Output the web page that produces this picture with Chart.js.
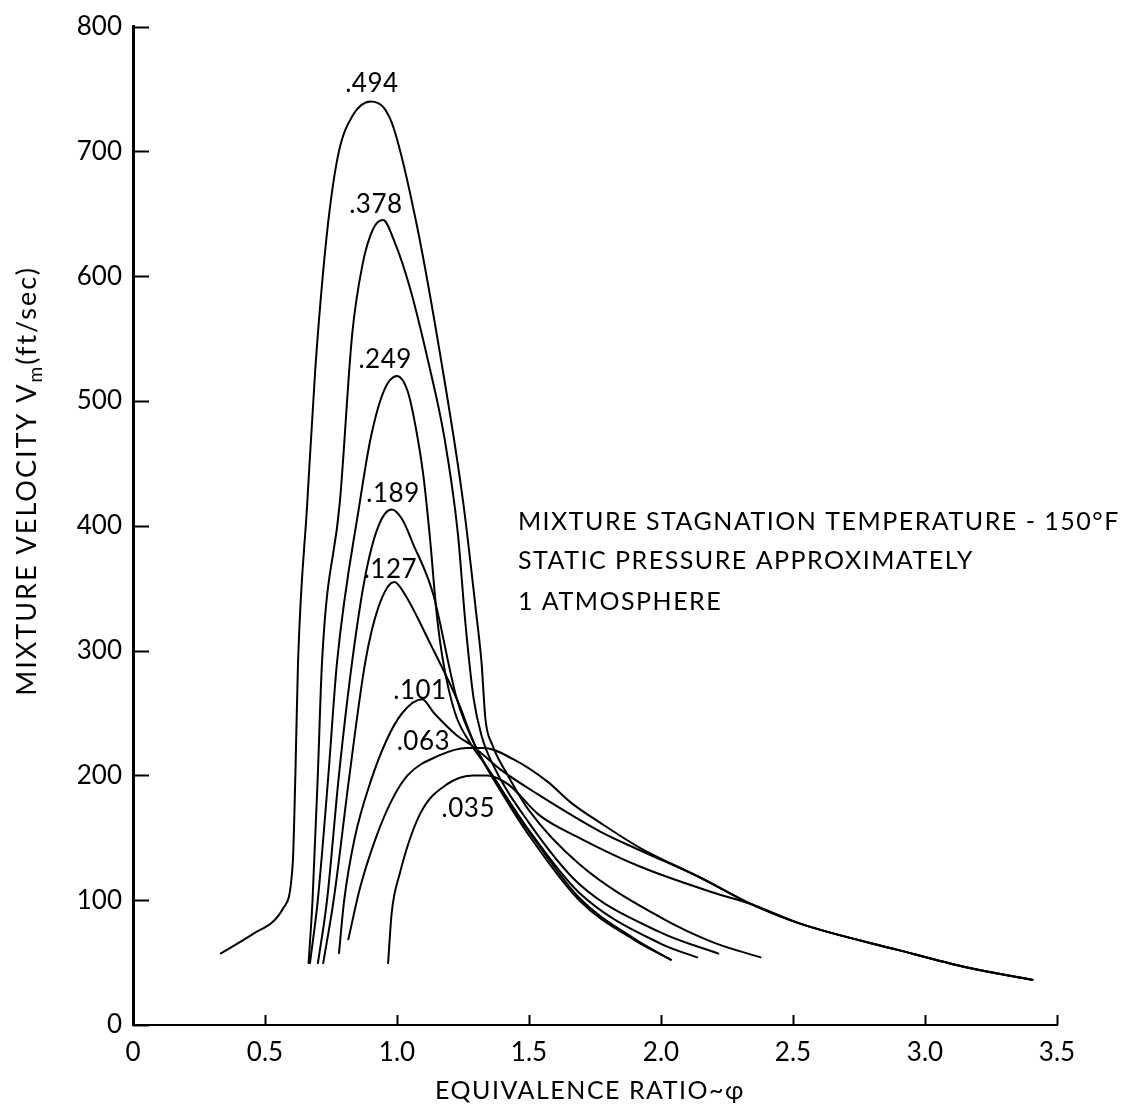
<!DOCTYPE html>
<html>
<head>
<meta charset="utf-8">
<script src="https://cdn.jsdelivr.net/npm/chart.js@4.4.1/dist/chart.umd.min.js"></script>
<style>
  html, body { margin: 0; padding: 0; background: #fff; }
</style>
</head>
<body>
<canvas id="chart" width="1132" height="1113"></canvas>
<script>
const FONT = 'Lato, "Liberation Sans", sans-serif';

// axis ticks
const xTickValues = [0, 0.5, 1.0, 1.5, 2.0, 2.5, 3.0, 3.5];
const yTickValues = [0, 100, 200, 300, 400, 500, 600, 700, 800];

// fuel flow labels, one per curve
const flowLabels = ['.494', '.378', '.249', '.189', '.127', '.101', '.063', '.035'];

// [equivalence ratio, mixture velocity ft/sec]
const curve494 = [[0.33,57],[0.455,73],[0.57,94],[0.605,129],[0.615,200],[0.625,290],[0.66,418],[0.69,524],
  [0.72,603],[0.746,655],[0.78,700],[0.83,728],[0.90,740],[0.95,735],[0.99,717],[1.075,641],
  [1.17,529],[1.25,420],[1.30,330],[1.32,291],[1.335,245],[1.36,225],[1.42,200],[1.5,172],[1.69,129],
  [2.0,86],[2.2,66],[2.38,54]];
const curve378 = [[0.665,49],[0.68,100],[0.70,200],[0.716,291],[0.784,420],[0.83,553],[0.87,610],[0.91,638],
  [0.947,645],[0.99,628],[1.05,590],[1.12,530],[1.18,470],[1.23,395],[1.26,320],[1.29,262],[1.32,232],
  [1.36,210],[1.5,162],[1.69,113],[2.0,74],[2.22,57]];
const curve249 = [[0.67,49],[0.70,100],[0.74,200],[0.773,291],[0.86,420],[0.90,470],[0.95,508],[1.0,520],
  [1.04,508],[1.07,480],[1.10,440],[1.125,390],[1.15,330],[1.175,291],[1.22,250],[1.28,225],[1.33,210],
  [1.5,156],[1.69,106],[2.0,65],[2.14,54]];
const curve189 = [[0.70,49],[0.735,100],[0.78,200],[0.83,291],[0.88,360],[0.93,400],[0.98,413],[1.02,405],
  [1.06,386],[1.136,346],[1.227,261],[1.30,222],[1.4,185],[1.5,152],[1.69,100],[1.9,68],[2.04,52]];
const curve127 = [[0.72,49],[0.76,100],[0.82,200],[0.88,291],[0.93,335],[0.99,355],[1.03,345],[1.125,306],
  [1.227,261],[1.30,222],[1.4,187],[1.5,155],[1.69,102],[1.9,69],[2.04,52]];
const curve101 = [[0.78,57],[0.80,100],[0.84,150],[0.90,195],[0.96,228],[1.02,250],[1.095,261],[1.14,250],
  [1.227,232],[1.29,223],[1.39,205],[1.54,184],[1.77,155],[1.92,140],[2.15,118],[2.34,97],[2.53,81],
  [2.9,60],[3.16,46],[3.41,36]];
const curve063 = [[0.815,68],[0.86,110],[0.92,150],[0.98,180],[1.04,200],[1.16,216],[1.265,222],[1.33,222],
  [1.44,213],[1.57,195],[1.66,178],[1.77,162],[1.92,142],[2.15,118],[2.34,97],[2.53,81],
  [2.9,60],[3.16,46],[3.41,36]];
const curve035 = [[0.966,49],[0.98,90],[1.01,121],[1.087,169],[1.19,193],[1.29,200],[1.34,200],[1.42,193],
  [1.54,168],[1.69,150],[1.92,127],[2.2,106],[2.34,97],[2.53,81],[2.9,60],
  [3.16,46],[3.41,36]];

const curves = [curve494, curve378, curve249, curve189, curve127, curve101, curve063, curve035];

// where each flow label sits (data units)
const labelSpots = [[0.905,754],[0.92,657],[0.955,533],[0.985,426],[0.975,365],[1.087,268],[1.10,227],[1.27,173]];

const noteLines = ['MIXTURE STAGNATION TEMPERATURE - 150°F', 'STATIC PRESSURE APPROXIMATELY', '1 ATMOSPHERE'];
const noteX = 1.458;
const noteY = [403, 372, 339];

// tick marks are drawn inside the plot, like the original
const insideTicks = {
  id: 'insideTicks',
  afterDatasetsDraw(chart) {
    const {ctx, chartArea, scales: {x, y}} = chart;
    ctx.save();
    ctx.strokeStyle = '#000';
    ctx.lineWidth = 2;
    ctx.beginPath();
    yTickValues.forEach(v => {
      const py = Math.round(y.getPixelForValue(v)) + 0.5;
      ctx.moveTo(chartArea.left, py);
      ctx.lineTo(chartArea.left + 16, py);
    });
    xTickValues.forEach(v => {
      const px = Math.round(x.getPixelForValue(v)) + 0.5;
      ctx.moveTo(px, chartArea.bottom);
      ctx.lineTo(px, chartArea.bottom - 10);
    });
    ctx.stroke();
    ctx.restore();
  }
};

// curve labels, notes and axis titles
const chartText = {
  id: 'chartText',
  afterDraw(chart) {
    const {ctx, scales: {x, y}} = chart;
    ctx.save();
    ctx.fillStyle = '#000';
    ctx.textBaseline = 'middle';

    ctx.font = '26px ' + FONT;
    ctx.letterSpacing = '0.5px';
    ctx.textAlign = 'center';
    flowLabels.forEach((t, i) => {
      ctx.fillText(t, x.getPixelForValue(labelSpots[i][0]), y.getPixelForValue(labelSpots[i][1]));
    });

    ctx.font = '25px ' + FONT;
    ctx.letterSpacing = '1.5px';
    ctx.textAlign = 'left';
    noteLines.forEach((t, i) => {
      ctx.fillText(t, x.getPixelForValue(noteX), y.getPixelForValue(noteY[i]));
    });

    // x title
    ctx.font = '25px ' + FONT;
    ctx.letterSpacing = '1.5px';
    ctx.textAlign = 'center';
    ctx.fillText('EQUIVALENCE RATIO~φ', 590, 1091);

    // y title, rotated, with subscript m
    ctx.translate(27, 481);
    ctx.rotate(-Math.PI / 2);
    const a = 'MIXTURE VELOCITY V', b = 'm', c = '(ft/sec)';
    ctx.letterSpacing = '2px';
    ctx.font = '27px ' + FONT;
    const wa = ctx.measureText(a).width, wc = ctx.measureText(c).width;
    ctx.font = '19px ' + FONT;
    const wb = ctx.measureText(b).width;
    const start = -(wa + wb + wc) / 2;
    ctx.textAlign = 'left';
    ctx.font = '27px ' + FONT;
    ctx.fillText(a, start, 0);
    ctx.font = '19px ' + FONT;
    ctx.fillText(b, start + wa, 9);
    ctx.font = '27px ' + FONT;
    ctx.fillText(c, start + wa + wb, 0);
    ctx.restore();
  }
};

const ctx = document.getElementById('chart').getContext('2d');
new Chart(ctx, {
  type: 'scatter',
  data: {
    datasets: curves.map((pts, i) => ({
      label: flowLabels[i],
      data: pts.map(p => ({x: p[0], y: p[1]})),
      showLine: true,
      borderColor: '#000',
      borderWidth: 2,
      pointRadius: 0,
      cubicInterpolationMode: 'monotone',
      fill: false
    }))
  },
  options: {
    responsive: false,
    animation: false,
    layout: { padding: { top: 20, right: 75, left: 0, bottom: 0 } },
    plugins: { legend: { display: false }, tooltip: { enabled: false } },
    scales: {
      x: {
        type: 'linear',
        min: 0, max: 3.5,
        afterBuildTicks: s => { s.ticks = xTickValues.map(v => ({value: v})); },
        afterFit: s => { s.height = 88; },
        grid: { drawOnChartArea: false, drawTicks: false },
        border: { display: true, color: '#000', width: 2 },
        ticks: {
          color: '#000', padding: 12,
          font: { family: FONT, size: 26 },
          maxRotation: 0,
          callback: v => v === 0 ? '0' : v.toFixed(1)
        }
      },
      y: {
        type: 'linear',
        min: 0, max: 800,
        afterBuildTicks: s => { s.ticks = yTickValues.map(v => ({value: v})); },
        afterFit: s => { s.width = 133; },
        grid: { drawOnChartArea: false, drawTicks: false },
        border: { display: true, color: '#000', width: 3 },
        ticks: {
          color: '#000', padding: 11,
          font: { family: FONT, size: 26 }
        }
      }
    }
  },
  plugins: [insideTicks, chartText]
});
</script>
</body>
</html>
